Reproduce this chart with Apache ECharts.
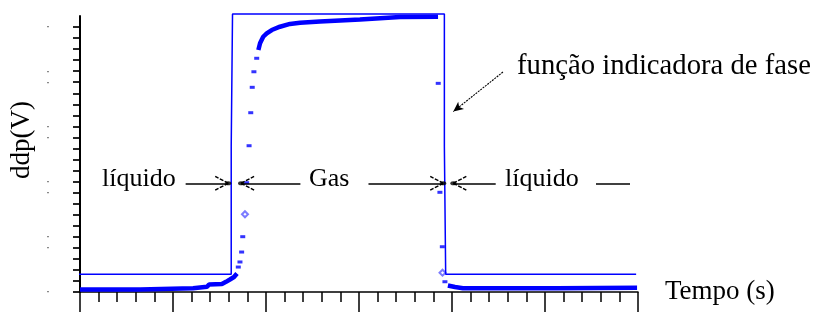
<!DOCTYPE html>
<html>
<head>
<meta charset="utf-8">
<script src="https://cdn.jsdelivr.net/npm/echarts@6/dist/echarts.min.js"></script>
<style>
html, body { margin: 0; padding: 0; background: #fff; }
#chart { width: 822px; height: 314px; }
</style>
</head>
<body>
<div id="chart"></div>
<script>
// função indicadora de fase (onda quadrada)
var indicadorT = [-0.1, 8.13, 8.13, 8.2, 8.2, 19.59, 19.59, 19.66, 19.66, 29.9]
var indicadorV = [1.6, 1.6, 13.2, 13.2, 25.18, 25.18, 13.2, 13.2, 1.6, 1.6]

// sinal medido - trechos densos (viram uma faixa grossa)
var sinalEsqT = [0, 3.23, 3.28, 6.08, 6.18, 6.83, 6.94, 7.63, 7.85, 8.06, 8.28, 8.44]
var sinalEsqV = [0.23, 0.23, 0.34, 0.34, 0.47, 0.47, 0.68, 0.72, 0.92, 1.13, 1.36, 1.68]
var sinalTopoT = [9.59, 9.68, 9.85, 10.04, 10.31, 10.75, 11.29, 11.83, 12.9, 13.98, 15.05, 16.13, 17.2, 19.25]
var sinalTopoV = [21.92, 22.53, 23.12, 23.43, 23.73, 24.03, 24.28, 24.39, 24.5, 24.59, 24.68, 24.8, 24.91, 24.94]
var sinalDirT = [19.78, 20.16, 20.59, 25.65, 25.7, 29.95]
var sinalDirV = [0.59, 0.45, 0.34, 0.34, 0.38, 0.38]

// pontos isolados nas transições
var saltoT = [8.51, 8.6, 8.69, 8.75, 8.96, 9.09, 9.18, 9.26, 9.35, 9.5, 19.26, 19.35, 19.48, 19.62]
var saltoV = [2.26, 2.72, 3.62, 5.01, 9.9, 13.25, 16.24, 18.54, 19.95, 21.17, 18.9, 9.03, 4.1, 0.93]
var ocoT = [8.87, 19.49]
var ocoV = [7.04, 1.75]

// anotações (coordenadas em unidades dos eixos)
var setaY = 9.85
var setas = [[5.68, 7.97], [11.85, 8.66], [15.51, 19.53], [22.35, 20.07]] // [inicio, ponta]
var tracoFinal = [27.74, 29.57]
var setaFuncao = [[22.74, 19.93], [20.07, 16.34]]
var marcaTempo = 8.33

var fonte = '"Liberation Serif", "Times New Roman", serif'
var azul = '#0000ff'

function pares(t, v) {
  return t.map(function (x, i) { return [x, v[i]] })
}

var sinal = pares(sinalEsqT, sinalEsqV).concat([['-', '-']], pares(sinalTopoT, sinalTopoV), [['-', '-']], pares(sinalDirT, sinalDirV))

// linhas das setas + "bracos" das pontas
var braco = { type: [4, 1.5], width: 1.5 }
var linhas = []
var pontas = []
setas.forEach(function (s) {
  var dir = s[1] > s[0] ? 1 : -1
  linhas.push([{ coord: [s[0], setaY] }, { coord: [s[1], setaY] }])
  linhas.push([{ coord: [s[1], setaY], lineStyle: braco }, { coord: [s[1] - dir * 0.7, setaY + 0.62], lineStyle: braco }])
  linhas.push([{ coord: [s[1], setaY], lineStyle: braco }, { coord: [s[1] - dir * 0.7, setaY - 0.62], lineStyle: braco }])
  pontas.push([s[1], setaY])
})
linhas.push([{ coord: [tracoFinal[0], setaY] }, { coord: [tracoFinal[1], setaY] }])
linhas.push([{ coord: [marcaTempo, 0], lineStyle: { type: [3, 2], width: 1.5 } }, { coord: [marcaTempo, -1.95], lineStyle: { type: [3, 2], width: 1.5 } }])
linhas.push([
  { coord: setaFuncao[0], lineStyle: { type: [2, 1], width: 1.1 }, symbol: 'none' },
  { coord: setaFuncao[1], lineStyle: { type: [2, 1], width: 1.1 }, symbol: 'arrow', symbolSize: [7, 10] }
])

var chart = echarts.init(document.getElementById('chart'))

chart.setOption({
  backgroundColor: '#fff',
  animation: false,
  grid: { left: 80, right: 184, top: 16, bottom: 22, containLabel: false, outerBoundsMode: 'none' },
  xAxis: {
    type: 'value',
    min: 0,
    max: 30,
    interval: 5,
    name: 'Tempo (s)',
    nameLocation: 'end',
    nameGap: 27,
    nameTextStyle: { fontFamily: fonte, fontSize: 27, color: '#000', verticalAlign: 'middle', padding: [6, 0, 0, 0] },
    axisLine: { lineStyle: { color: '#000', width: 1.5 } },
    axisTick: { show: true, length: 20, lineStyle: { color: '#000', width: 1.5 } },
    minorTick: { show: true, splitNumber: 5, length: 10, lineStyle: { color: '#000', width: 1.5 } },
    axisLabel: { show: false },
    splitLine: { show: false }
  },
  yAxis: {
    type: 'value',
    min: 0,
    max: 25,
    interval: 1,
    name: 'ddp(V)',
    nameLocation: 'middle',
    nameRotate: 90,
    nameGap: 42,
    nameTextStyle: { fontFamily: fonte, fontSize: 27, color: '#000', padding: [0, 0, 0, 28] },
    axisLine: { show: true, lineStyle: { color: '#000', width: 2 } },
    axisTick: { show: true, length: 7, lineStyle: { color: '#000', width: 1.7 } },
    axisLabel: {
      margin: 30,
      fontSize: 12,
      color: '#333',
      formatter: function (v) { return (v % 5 === 0 || v % 5 === 4) ? '·' : '' }
    },
    splitLine: { show: false }
  },
  graphic: [
    { type: 'text', x: 102, y: 179, style: { text: 'líquido', font: '26px ' + fonte, fill: '#000', verticalAlign: 'middle' } },
    { type: 'text', x: 309, y: 179, style: { text: 'Gas', font: '26px ' + fonte, fill: '#000', verticalAlign: 'middle' } },
    { type: 'text', x: 505, y: 179, style: { text: 'líquido', font: '26px ' + fonte, fill: '#000', verticalAlign: 'middle' } },
    { type: 'text', x: 517, y: 66, style: { text: 'função indicadora de fase', font: '28.7px ' + fonte, fill: '#000', verticalAlign: 'middle' } }
  ],
  series: [
    {
      name: 'função indicadora',
      type: 'line',
      data: pares(indicadorT, indicadorV),
      showSymbol: false,
      clip: false,
      lineStyle: { color: azul, width: 1.5 },
      itemStyle: { color: azul },
      z: 3
    },
    {
      name: 'sinal',
      type: 'line',
      data: sinal,
      showSymbol: false,
      connectNulls: false,
      lineStyle: { color: azul, width: 4.5 },
      itemStyle: { color: azul },
      z: 2
    },
    {
      name: 'transição',
      type: 'scatter',
      data: pares(saltoT, saltoV),
      symbol: 'rect',
      symbolSize: [5, 3],
      itemStyle: { color: azul },
      z: 2
    },
    {
      name: 'oco',
      type: 'scatter',
      data: pares(ocoT, ocoV),
      symbol: 'emptyDiamond',
      symbolSize: 6,
      itemStyle: { color: '#5a5aff', borderWidth: 1 },
      z: 2
    },
    {
      name: 'anotações',
      type: 'scatter',
      data: pontas,
      symbol: 'circle',
      symbolSize: [6, 4],
      itemStyle: { color: '#000' },
      clip: false,
      z: 4,
      markLine: {
        silent: true,
        symbol: 'none',
        label: { show: false },
        lineStyle: { color: '#000', width: 1.5, type: 'solid' },
        emphasis: { disabled: true },
        data: linhas
      }
    }
  ]
})
</script>
</body>
</html>
